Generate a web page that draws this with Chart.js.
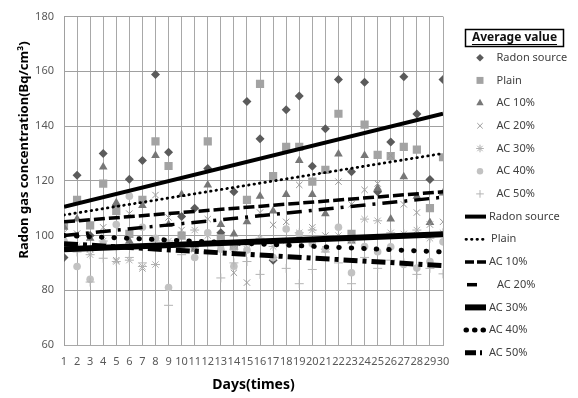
<!DOCTYPE html>
<html><head><meta charset="utf-8">
<script src="https://cdn.jsdelivr.net/npm/chart.js@4/dist/chart.umd.min.js"></script>
<style>html,body{margin:0;padding:0;background:#fff;}canvas{display:block;}</style>
</head><body>
<canvas id="c" width="578" height="398"></canvas>
<script>
// ---- data ----
const days = [1,2,3,4,5,6,7,8,9,10,11,12,13,14,15,16,17,18,19,20,21,22,23,24,25,26,27,28,29,30];
const seriesNames = ['Radon source','Plain','AC 10%','AC 20%','AC 30%','AC 40%','AC 50%'];
const radonSource = [92,122,100,130,111,120.6,127.4,158.8,130.4,107,110,124.5,101,116,149,135.4,91,146,151,125.3,139,157,123.3,156,116,134.2,158,144.4,120.5,157];
const plain = [103.7,113,103.7,119,109,100.6,113,134.4,125.4,100,96,134.4,99,96,113,155.4,121.7,132.4,132.4,119.7,124,144.5,100.6,140.5,129.5,129,132.4,131.4,110,128.6];
const ac10 = [103,106,99,125,112,98,111,129.2,104,115,95,118.5,104,100.6,105,114.4,109,115,127.4,115,108,129.8,98,129.2,117.3,106,121.5,114.4,104.8,115.5];
const ac20 = [101,100.7,95,103,91,108,88,114.8,106.6,102,95,106,96,86.4,82.8,108.4,103.9,105,118.5,103,100,119.7,111.4,116.7,119,129.2,111.4,108.4,104,105];
const ac30 = [97,96,93,98,90.5,91,88.7,89.4,98,95,102,100,97,95,97,99,96,98,101,102,95,100,98,106,105.4,101,100.6,102,99,101];
const ac40 = [98,88.7,84,97,104,114.4,103,99,81,96,92,101,95,88.8,94.7,98,92,102.4,100.6,97,95,103,86.4,96,94.1,95.9,89.4,88.1,90.5,97.7];
const ac50 = [96,94,83,91.7,95,92,90,98,74.5,93,97,94,84.5,90,90.5,85.8,92,88,82.4,87.6,94,90,82.4,92,88,91,90,85.8,88,86];
// trend line end points (day 1 and day 30)
const trendDays = [1,30];
const trendRadon = [110.5,144.5];
const trendPlain = [107.5,130];
const trendAC10 = [105,116];
const trendAC20 = [100,114];
const trendAC30 = [95,100.5];
const trendAC40 = [100,94];
const trendAC50 = [97,89];
const yTicks = [60,80,100,120,140,160,180];
const legendTitle = 'Average value';
const xTitle = 'Days(times)';
const yTitle = 'Radon gas concentration(Bq/cm\u00B3)';

// ---- styles ----
const seriesValues = [radonSource, plain, ac10, ac20, ac30, ac40, ac50];
const trendValues = [trendRadon, trendPlain, trendAC10, trendAC20, trendAC30, trendAC40, trendAC50];
const markerStyles = [
  {pointStyle:'rectRot', radius:4.5, bg:'#5b5b5b', border:'#5b5b5b', bw:0},
  {pointStyle:'rect', radius:5.8, bg:'#a3a3a3', border:'#a3a3a3', bw:0},
  {pointStyle:'triangle', radius:5, bg:'#777777', border:'#777777', bw:0},
  {pointStyle:'crossRot', radius:4.5, bg:'rgba(0,0,0,0)', border:'#9a9a9a', bw:1},
  {pointStyle:'star', radius:4.5, bg:'rgba(0,0,0,0)', border:'#b0b0b0', bw:1},
  {pointStyle:'circle', radius:3.8, bg:'#c2c2c2', border:'#c2c2c2', bw:0},
  {pointStyle:'cross', radius:4.5, bg:'rgba(0,0,0,0)', border:'#b4b4b4', bw:1}
];
const lineStyles = [
  {w:4, dash:[], cap:'butt', lx0:465, lx1:486, lDash:[], tx:489},
  {w:2.8, dash:[0.5,5], cap:'round', lx0:466, lx1:486, lDash:[0.5,5], tx:491},
  {w:3.5, dash:[11,4], cap:'butt', lx0:465, lx1:486, lDash:[9,3], tx:489},
  {w:3.5, dash:[15,7,3,7], cap:'butt', lx0:467, lx1:477, lDash:[], tx:497},
  {w:6, dash:[], cap:'butt', lx0:465, lx1:486, lDash:[], tx:489},
  {w:5, dash:[0.5,12], cap:'round', lx0:466, lx1:486, lDash:[0.5,8], tx:489},
  {w:5, dash:[14,5,4,5], cap:'butt', lx0:465, lx1:484, lDash:[11,4,2,4], tx:489}
];

const datasets = [];
seriesNames.forEach((name, i) => {
  const m = markerStyles[i];
  datasets.push({
    type:'scatter', label:name,
    data: days.map((d, j) => ({x:d, y:seriesValues[i][j]})),
    pointStyle:m.pointStyle, pointRadius:m.radius, pointHoverRadius:m.radius,
    backgroundColor:m.bg, borderColor:m.border, borderWidth:m.bw, pointBorderWidth:m.bw,
    order: 10 - i
  });
});
seriesNames.forEach((name, i) => {
  const l = lineStyles[i];
  datasets.push({
    type:'line', label:name,
    data: trendDays.map((d, j) => ({x:d, y:trendValues[i][j]})),
    borderColor:'#000', backgroundColor:'#000', borderWidth:l.w, borderDash:l.dash, borderCapStyle:l.cap,
    pointRadius:0, fill:false, tension:0, order:0
  });
});

const FONT = '"Noto Sans", "DejaVu Sans", sans-serif';

const customDecor = {
  id:'customDecor',
  afterDraw(chart) {
    const ctx = chart.ctx;
    ctx.save();
    ctx.translate(24, 150);
    ctx.rotate(-Math.PI/2);
    ctx.font = 'bold 13px ' + FONT;
    ctx.fillStyle = '#000';
    ctx.textAlign = 'center';
    ctx.textBaseline = 'middle';
    ctx.fillText(yTitle, 0, 0);
    ctx.restore();

    ctx.save();
    ctx.strokeStyle = '#000';
    ctx.lineWidth = 1.5;
    ctx.strokeRect(465.5, 29.5, 98, 17);
    ctx.font = 'bold 12px ' + FONT;
    ctx.fillStyle = '#111';
    ctx.textAlign = 'center';
    ctx.textBaseline = 'middle';
    ctx.fillText(legendTitle, 514.5, 37.5);
    const tw = ctx.measureText(legendTitle).width;
    ctx.lineWidth = 1;
    ctx.beginPath();
    ctx.moveTo(514.5 - tw/2, 44.5); ctx.lineTo(514.5 + tw/2, 44.5);
    ctx.stroke();

    ctx.font = '11px ' + FONT;
    ctx.textAlign = 'left';
    const pitch = 22.7;
    const y0 = 57.7;
    const helpers = Chart.helpers;
    seriesNames.forEach((name, i) => {
      const y = y0 + i * pitch;
      const m = markerStyles[i];
      ctx.save();
      ctx.fillStyle = m.bg; ctx.strokeStyle = m.border; ctx.lineWidth = m.bw;
      if (helpers && helpers.drawPoint) {
        helpers.drawPoint(ctx, {pointStyle:m.pointStyle, radius:m.radius*0.85, rotation:0, borderWidth:m.bw}, 480, y);
      }
      ctx.restore();
      ctx.fillStyle = '#404040';
      ctx.fillText(name, 496.5, y);
    });
    seriesNames.forEach((name, i) => {
      const y = y0 + (i + 7) * pitch;
      const l = lineStyles[i];
      ctx.save();
      ctx.strokeStyle = '#000'; ctx.lineWidth = l.w; ctx.lineCap = l.cap;
      ctx.setLineDash(l.lDash);
      ctx.beginPath(); ctx.moveTo(l.lx0, y); ctx.lineTo(l.lx1, y); ctx.stroke();
      ctx.restore();
      ctx.fillStyle = '#404040';
      ctx.fillText(name, l.tx, y);
    });
    ctx.restore();
  }
};

new Chart(document.getElementById('c'), {
  type:'scatter',
  data:{datasets},
  options:{
    responsive:false, animation:false, devicePixelRatio:1,
    layout:{padding:{top:9, right:135, bottom:0, left:0}},
    plugins:{legend:{display:false}, tooltip:{enabled:false}},
    scales:{
      x:{type:'linear', min:1, max:30,
        ticks:{stepSize:1, autoSkip:false, maxRotation:0, minRotation:0, padding:10, color:'#595959', font:{family:FONT, size:11}},
        grid:{color:'#a8a8a8', drawTicks:false, lineWidth:1},
        border:{color:'#a8a8a8'},
        title:{display:true, text:xTitle, color:'#000', font:{family:FONT, size:14, weight:'bold'}, padding:{top:0, bottom:5}},
        afterFit(s){ s.height = 53; }
      },
      y:{type:'linear', min:60, max:180,
        afterBuildTicks(s){ s.ticks = yTicks.map(v => ({value:v})); },
        ticks:{padding:10, color:'#595959', font:{family:FONT, size:11}},
        grid:{color:'#a0a0a0', drawTicks:false, lineWidth:1},
        border:{color:'#a0a0a0'},
        afterFit(s){ s.width = 64; }
      }
    }
  },
  plugins:[customDecor]
});
</script>
</body></html>
